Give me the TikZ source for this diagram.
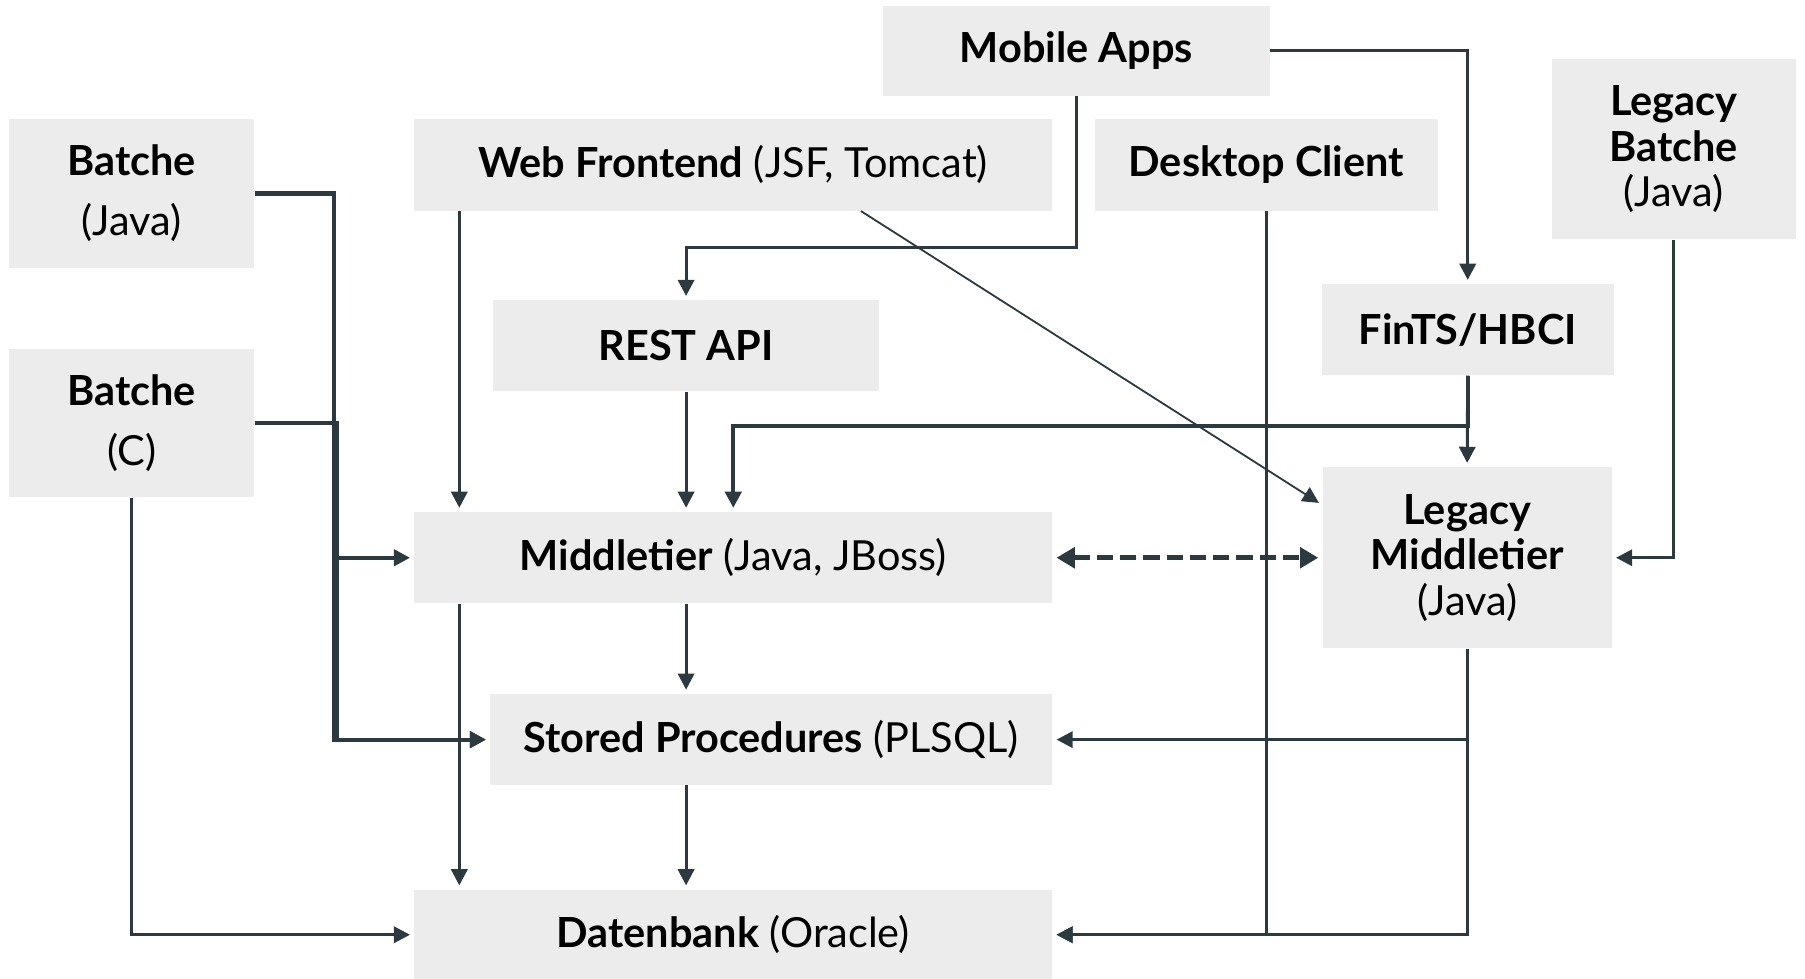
\documentclass[tikz,border=0pt]{standalone}
\usepackage{fontspec}
\setmainfont{Lato}
\usetikzlibrary{arrows.meta, positioning}
\definecolor{linegray}{RGB}{44,58,64}
\definecolor{boxgray}{RGB}{236,236,236}

\begin{document}
\begin{tikzpicture}[
    x=0.02cm, y=-0.02cm,
    font=\fontsize{20.5}{22.5}\selectfont,
    box/.style={fill=boxgray, inner sep=0pt, align=center},
    link/.style={draw=linegray, line width=1.5pt, shorten >=2pt, -{Triangle[length=8pt, width=8pt]}},
    bus/.style={link, line width=2.1pt},
    thinlink/.style={link, line width=0.9pt},
    dashlink/.style={draw=linegray, line width=2.6pt, dash pattern=on 8pt off 3.5pt, shorten >=2pt, shorten <=2pt, {Triangle[length=9pt, width=10pt]}-{Triangle[length=9pt, width=10pt]}}
]
    \useasboundingbox (0,0) rectangle (1568,850);

    % Columns for the vertical connectors
    \coordinate (colA) at (399,0);
    \coordinate (colB) at (596,0);
    \coordinate (busL) at (290,0);
    \coordinate (busR) at (293,0);
    \coordinate (mbend) at (935,215);
    \coordinate (fbend) at (1275,370);

    % Nodes
    \node [box, minimum width=6.72cm, minimum height=1.56cm] (mobile) at (935,44) {\bfseries Mobile Apps};
    \node [box, minimum width=4.26cm, minimum height=2.6cm] (bjava) at (114.5,168) {\bfseries Batche\\[7pt] (Java)};
    \node [box, minimum width=11.08cm, minimum height=1.6cm] (web) at (637,143) {\textbf{Web Frontend} (JSF, Tomcat)};
    \node [box, minimum width=5.96cm, minimum height=1.6cm] (desk) at (1100,143) {\bfseries Desktop Client};
    \node [box, minimum width=4.24cm, minimum height=3.14cm] (lbatch) at (1454,129.5) {\bfseries Legacy\\ \bfseries Batche\\ (Java)};
    \node [box, minimum width=6.72cm, minimum height=1.58cm] (rest) at (596,300.5) {\bfseries REST API};
    \node [box, minimum width=5.08cm, minimum height=1.58cm] (fints) at (1275,286.5) {\bfseries FinTS/HBCI};
    \node [box, minimum width=4.26cm, minimum height=2.58cm] (bc) at (114.5,367.5) {\bfseries Batche\\[7pt] (C)};
    \node [box, minimum width=11.08cm, minimum height=1.58cm] (mid) at (637,484.5) {\textbf{Middletier} (Java, JBoss)};
    \node [box, minimum width=5.02cm, minimum height=3.14cm] (lmid) at (1274.5,484.5) {\bfseries Legacy\\ \bfseries Middletier\\ (Java)};
    \node [box, minimum width=9.76cm, minimum height=1.58cm] (sp) at (670,642.5) {\textbf{Stored Procedures} (PLSQL)};
    \node [box, minimum width=11.08cm, minimum height=1.56cm] (db) at (637,812) {\textbf{Datenbank} (Oracle)};

    % Clients
    \draw [link] (mobile.east) -| (fints.north);
    \draw [link] (mobile.south) -- (mbend) -| (rest.north);
    \draw [link] (web.south -| colA) -- (mid.north -| colA);
    \draw [thinlink] (web.-20) -- (lmid.160);
    \draw [link] (desk.south) |- (db.east);

    % Batches
    \draw [bus] (bjava.east) -- (bjava.east -| busL) |- (sp.west);
    \draw [bus] (bc.east) -- (bc.east -| busR) |- (mid.west);
    \draw [bus] (bc.east -| busR) |- (sp.west);
    \draw [link] (bc.south) |- (db.west);
    \draw [link] (lbatch.south) |- (lmid.east);

    % Middle layer
    \draw [link] (rest.south) -- (rest.south |- mid.north);
    \draw [link] (fints.south) -- (lmid.north);
    \draw [bus] (fints.south) -- (fbend) -| (mid.north);
    \draw [dashlink] (mid.east) -- (lmid.west);

    % Database layer
    \draw [link] (mid.south -| colB) -- (sp.north -| colB);
    \draw [link] (mid.south -| colA) -- (db.north -| colA);
    \draw [link] (sp.south -| colB) -- (db.north -| colB);
    \draw [link] (lmid.south) |- (sp.east);
    \draw [link] (lmid.south) |- (db.east);
\end{tikzpicture}
\end{document}
